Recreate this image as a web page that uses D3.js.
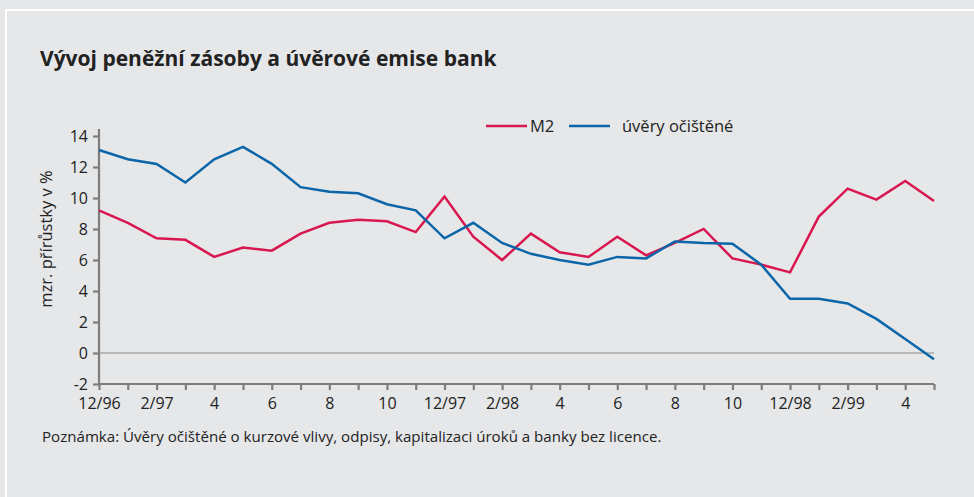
<!DOCTYPE html>
<meta charset="utf-8">
<style>
  body { margin: 0; background: #e6e7e9; }
  text { font-family: "Open Sans", Lato, sans-serif; fill: #222; }
</style>
<script src="https://d3js.org/d3.v7.min.js"></script>
<div id="chart"></div>
<script>

// months 12/96 .. 5/99
var months = ["12/96","1/97","2/97","3/97","4/97","5/97","6/97","7/97","8/97","9/97","10/97","11/97",
              "12/97","1/98","2/98","3/98","4/98","5/98","6/98","7/98","8/98","9/98","10/98","11/98",
              "12/98","1/99","2/99","3/99","4/99","5/99"];

// tick labels shown under every second month
var tickLabels = {"12/96":"12/96","2/97":"2/97","4/97":"4","6/97":"6","8/97":"8","10/97":"10",
                  "12/97":"12/97","2/98":"2/98","4/98":"4","6/98":"6","8/98":"8","10/98":"10",
                  "12/98":"12/98","2/99":"2/99","4/99":"4"};

var m2 = [9.2, 8.4, 7.4, 7.3, 6.2, 6.8, 6.6, 7.7, 8.4, 8.6, 8.5, 7.8,
          10.1, 7.5, 6.0, 7.7, 6.5, 6.2, 7.5, 6.3, 7.1, 8.0, 6.1, 5.7,
          5.2, 8.8, 10.6, 9.9, 11.1, 9.8];

var uvery = [13.1, 12.5, 12.2, 11.0, 12.5, 13.3, 12.2, 10.7, 10.4, 10.3, 9.6, 9.2,
             7.4, 8.4, 7.1, 6.4, 6.0, 5.7, 6.2, 6.1, 7.2, 7.1, 7.05, 5.7,
             3.5, 3.5, 3.2, 2.2, 0.9, -0.4];

var yTicks = [-2, 0, 2, 4, 6, 8, 10, 12, 14];

var W = 974, H = 497;
var svg = d3.select("#chart").append("svg")
    .attr("width", W).attr("height", H);

// panel with white border
svg.append("rect").attr("x", 0).attr("y", 0).attr("width", W).attr("height", H).attr("fill", "#e6e7e9");
svg.append("rect").attr("x", 6).attr("y", 10).attr("width", W + 10).attr("height", H + 10)
    .attr("fill", "none").attr("stroke", "#ffffff").attr("stroke-width", 2);

svg.append("text")
    .attr("x", 40).attr("y", 66)
    .style("font-size", "21px").style("font-weight", "bold")
    .text("Vývoj peněžní zásoby a úvěrové emise bank");

var x = d3.scalePoint().domain(months).range([99, 934]);
var y = d3.scaleLinear().domain([-2, 14]).range([384, 136]);

// zero line
svg.append("line")
    .attr("x1", x.range()[0]).attr("x2", x.range()[1])
    .attr("y1", y(0)).attr("y2", y(0))
    .attr("stroke", "#8a8a8a").attr("stroke-width", 1);

// y axis
var yAxis = svg.append("g")
    .attr("transform", "translate(" + x.range()[0] + ",0)")
    .call(d3.axisLeft(y).tickValues(yTicks).tickSize(6).tickPadding(5)
      .tickFormat(function(d) { return String(d); }));
yAxis.select(".domain").attr("d", "M0," + y(-2) + "V" + y(14.45));

// x axis
var xAxis = svg.append("g")
    .attr("transform", "translate(0," + y(-2) + ")")
    .call(d3.axisBottom(x).tickSize(6).tickPadding(8)
      .tickFormat(function(d) { return tickLabels[d] || ""; }));
xAxis.select(".domain").attr("d", "M" + x.range()[0] + ",0H" + x.range()[1]);

svg.selectAll(".domain, .tick line").attr("stroke", "#7d7d7d").attr("stroke-width", 2.2);
svg.selectAll(".tick text").style("font-size", "16px").style("font-family", "'Open Sans', sans-serif").attr("fill", "#222");

svg.append("text")
    .attr("transform", "translate(52,239) rotate(-90)")
    .attr("text-anchor", "middle")
    .style("font-size", "16.5px")
    .text("mzr. přírůstky v %");

var line = d3.line()
    .x(function(d, i) { return x(months[i]); })
    .y(function(d) { return y(d); });

svg.append("path").datum(m2)
    .attr("d", line).attr("fill", "none")
    .attr("stroke", "#d8174f").attr("stroke-width", 2.5);
svg.append("path").datum(uvery)
    .attr("d", line).attr("fill", "none")
    .attr("stroke", "#0a66a8").attr("stroke-width", 2.5);

// legend
var legend = [{name: "M2", color: "#d8174f", x: 486, tx: 530},
              {name: "úvěry očištěné", color: "#0a66a8", x: 569, tx: 622}];
legend.forEach(function(l) {
  svg.append("line").attr("x1", l.x).attr("x2", l.x + 41)
      .attr("y1", 126).attr("y2", 126)
      .attr("stroke", l.color).attr("stroke-width", 2.5);
  svg.append("text").attr("x", l.tx).attr("y", 132)
      .style("font-size", "16.5px").text(l.name);
});

svg.append("text")
    .attr("x", 42).attr("y", 442)
    .style("font-size", "15.1px")
    .text("Poznámka: Úvěry očištěné o kurzové vlivy, odpisy, kapitalizaci úroků a banky bez licence.");

</script>
